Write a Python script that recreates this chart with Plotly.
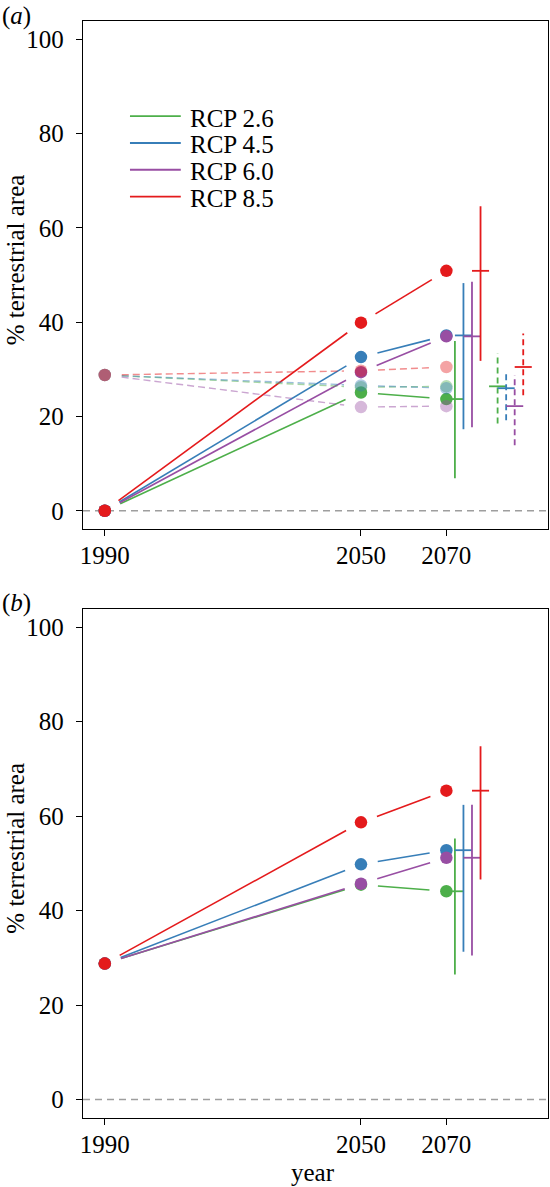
import plotly.graph_objects as go

# ---------------- data ----------------
years = [1990, 2050, 2070]
scenarios = ["RCP 2.6", "RCP 4.5", "RCP 6.0", "RCP 8.5"]
colors = ["#4daf4a", "#377eb8", "#984ea3", "#e41a1c"]
faint = ["rgba(77,175,74,0.4)", "rgba(55,126,184,0.4)", "rgba(152,78,163,0.4)", "rgba(228,26,28,0.4)"]
faint_line = ["rgba(77,175,74,0.5)", "rgba(55,126,184,0.5)", "rgba(152,78,163,0.5)", "rgba(228,26,28,0.5)"]

# panel (a): solid series
a_green = [0.0, 25.1, 23.7]
a_blue = [0.0, 32.6, 37.2]
a_purple = [0.0, 29.4, 37.0]
a_red = [0.0, 39.9, 50.9]
# panel (a): dashed (faint) series
a2_green = [28.8, 26.2, 26.4]
a2_blue = [28.8, 26.6, 26.0]
a2_purple = [28.8, 22.0, 22.2]
a2_red = [28.8, 29.7, 30.5]
# panel (a): 2070 ranges (green, blue, purple, red)
a_low = [6.9, 17.3, 17.7, 31.8]
a_high = [36.0, 48.3, 48.6, 64.6]
a2_low = [18.5, 19.2, 13.9, 24.5]
a2_high = [33.4, 29.5, 28.8, 37.6]

# panel (b)
b_green = [28.8, 45.5, 44.1]
b_blue = [28.8, 49.8, 52.8]
b_purple = [28.8, 45.7, 51.2]
b_red = [28.8, 58.7, 65.4]
b_low = [26.5, 31.3, 30.5, 46.6]
b_high = [55.3, 62.4, 62.4, 74.8]

y_ticks = [0, 20, 40, 60, 80, 100]
x_ticks = [1990, 2050, 2070]
panel_labels = ["(<i>a</i>)", "(<i>b</i>)"]
y_title = "% terrestrial area"
x_title = "year"

# ---------------- layout constants ----------------
W, H = 550, 1187
OFF = 0  # body margin removed via post_script below
# target positions in window pixels
P_LEFT, P_RIGHT = 83.2, 548.5
PA_TOP, PA_BOT = 21.0, 529.3
PB_TOP, PB_BOT = 609.0, 1118.3

ML = P_LEFT - OFF
MR = W - (P_RIGHT - OFF)
MT = PA_TOP - OFF
MB = H - (PB_BOT - OFF)
PW, PH = W - ML - MR, H - MT - MB
DOM_A = [1 - (PA_BOT - PA_TOP) / PH, 1.0]
DOM_B = [0.0, 1 - (PB_TOP - PA_TOP) / PH]

XR = [1984.9, 2093.8]
YR = [-3.9, 103.9]
FONT = "Liberation Serif, Times New Roman, Times, serif"
FS = 25
GAP = 17          # px gap between points and connecting lines
BAR_OFF_SOLID = [2, 4, 6, 8]
BAR_OFF_DASH = [12, 14, 16, 18]
TICK_HALF = 2.0

kx = PW / (XR[1] - XR[0])
ky = PH * (DOM_A[1] - DOM_A[0]) / (YR[1] - YR[0])


def gapped(xs, ys):
    X, Y = [], []
    for i in range(len(xs) - 1):
        dx = (xs[i + 1] - xs[i]) * kx
        dy = (ys[i + 1] - ys[i]) * ky
        L = (dx * dx + dy * dy) ** 0.5
        if L <= 2 * GAP:
            continue
        f = GAP / L
        X += [xs[i] + (xs[i + 1] - xs[i]) * f, xs[i + 1] - (xs[i + 1] - xs[i]) * f, None]
        Y += [ys[i] + (ys[i + 1] - ys[i]) * f, ys[i + 1] - (ys[i + 1] - ys[i]) * f, None]
    return X, Y


fig = go.Figure()


def add_series(series, xa, ya, line_colors, marker_colors, dash=None, lw=1.6):
    for s, lc in zip(series, line_colors):
        X, Y = gapped(years, s)
        fig.add_trace(go.Scatter(x=X, y=Y, mode="lines", xaxis=xa, yaxis=ya,
                                 line=dict(color=lc, width=lw, dash=dash),
                                 showlegend=False, hoverinfo="skip"))
    for s, mc in zip(series, marker_colors):
        fig.add_trace(go.Scatter(x=years, y=s, mode="markers", xaxis=xa, yaxis=ya,
                                 marker=dict(color=mc, size=12.5, line=dict(width=0)),
                                 showlegend=False))


def add_bars(means, lows, highs, offs, xa, ya, dash=None):
    for m, lo, hi, off, c in zip(means, lows, highs, offs, colors):
        xc = years[-1] + off
        fig.add_trace(go.Scatter(x=[xc, xc], y=[lo, hi], mode="lines", xaxis=xa, yaxis=ya,
                                 line=dict(color=c, width=1.8, dash=dash),
                                 showlegend=False, hoverinfo="skip"))
        fig.add_trace(go.Scatter(x=[xc - TICK_HALF, xc + TICK_HALF], y=[m, m], mode="lines",
                                 xaxis=xa, yaxis=ya, line=dict(color=c, width=1.8),
                                 showlegend=False, hoverinfo="skip"))


# panel (a)
a_solid = [a_green, a_blue, a_purple, a_red]
a_faint = [a2_green, a2_blue, a2_purple, a2_red]
add_series(a_solid, "x", "y", colors, colors)
add_series(a_faint, "x", "y", faint_line, faint, dash="7px,4px", lw=1.4)
add_bars([s[-1] for s in a_solid], a_low, a_high, BAR_OFF_SOLID, "x", "y")
add_bars([s[-1] for s in a_faint], a2_low, a2_high, BAR_OFF_DASH, "x", "y", dash="6px,4px")

# panel (b)
b_solid = [b_green, b_blue, b_purple, b_red]
add_series(b_solid, "x2", "y2", colors, colors)
add_bars([s[-1] for s in b_solid], b_low, b_high, BAR_OFF_SOLID, "x2", "y2")

# zero reference lines
for xr, yr in [("x domain", "y"), ("x2 domain", "y2")]:
    fig.add_shape(type="line", xref=xr, yref=yr, x0=0, x1=1, y0=0, y1=0, layer="below",
                  line=dict(color="#9e9e9e", width=1.5, dash="7px,5px"))

# legend (panel a)
LEG_X0, LEG_X1, LEG_TX = 1995.9, 2007.8, 2009.4
LEG_Y0, LEG_STEP = 83.7, 5.68
for i, (name, c) in enumerate(zip(scenarios, colors)):
    yv = LEG_Y0 - i * LEG_STEP
    fig.add_shape(type="line", xref="x", yref="y", x0=LEG_X0, x1=LEG_X1, y0=yv, y1=yv,
                  line=dict(color=c, width=1.8))
    fig.add_annotation(x=LEG_TX, y=yv - 0.4, xref="x", yref="y", text=name, showarrow=False,
                       xanchor="left", yanchor="middle",
                       font=dict(family=FONT, size=FS, color="black"))

axis_common = dict(showline=True, mirror=True, linecolor="black", linewidth=1.3,
                   ticks="outside", ticklen=6, tickwidth=1.3, tickcolor="black",
                   showgrid=False, zeroline=False, automargin=False,
                   tickfont=dict(family=FONT, size=FS, color="black"))

fig.update_layout(
    template="none",
    width=W, height=H,
    margin=dict(l=ML, r=MR, t=MT, b=MB, autoexpand=False),
    plot_bgcolor="white", paper_bgcolor="white",
    showlegend=False,
    font=dict(family=FONT, size=FS, color="black"),
    xaxis=dict(domain=[0, 1], range=XR, anchor="y", tickvals=x_ticks,
               ticklabelstandoff=-2, **axis_common),
    yaxis=dict(domain=DOM_A, range=YR, anchor="x", tickvals=y_ticks,
               ticklabelstandoff=7, **axis_common),
    xaxis2=dict(domain=[0, 1], range=XR, anchor="y2", tickvals=x_ticks,
                ticklabelstandoff=-2, **axis_common),
    yaxis2=dict(domain=DOM_B, range=YR, anchor="x2", tickvals=y_ticks,
                ticklabelstandoff=7, **axis_common),
)


# panel labels & axis titles (positions given in window pixels, converted to paper units)
def px_to_paper_x(px):
    return (px - OFF - ML) / PW


def py_to_paper_y(py):
    return 1 - (py - OFF - MT) / PH


centre_a = DOM_A[0] + (53.3 - YR[0]) / (YR[1] - YR[0]) * (DOM_A[1] - DOM_A[0])
centre_b = DOM_B[0] + (53.3 - YR[0]) / (YR[1] - YR[0]) * (DOM_B[1] - DOM_B[0])
for lab, ly, ctr in [(panel_labels[0], 15.5, centre_a), (panel_labels[1], 603.5, centre_b)]:
    fig.add_annotation(x=px_to_paper_x(0), y=py_to_paper_y(ly), xref="paper", yref="paper",
                       text=lab, showarrow=False, xanchor="left", yanchor="middle",
                       font=dict(family=FONT, size=FS, color="black"))
    fig.add_annotation(x=px_to_paper_x(16), y=ctr, xref="paper", yref="paper", text=y_title,
                       showarrow=False, textangle=-90, xanchor="center", yanchor="middle",
                       font=dict(family=FONT, size=FS, color="black"))
fig.add_annotation(x=px_to_paper_x(313), y=py_to_paper_y(1173), xref="paper", yref="paper",
                   text=x_title, showarrow=False, xanchor="center", yanchor="middle",
                   font=dict(family=FONT, size=FS, color="black"))

fig.write_html("out.html", config={"displayModeBar": False},
               post_script="document.body.style.margin='0';")
